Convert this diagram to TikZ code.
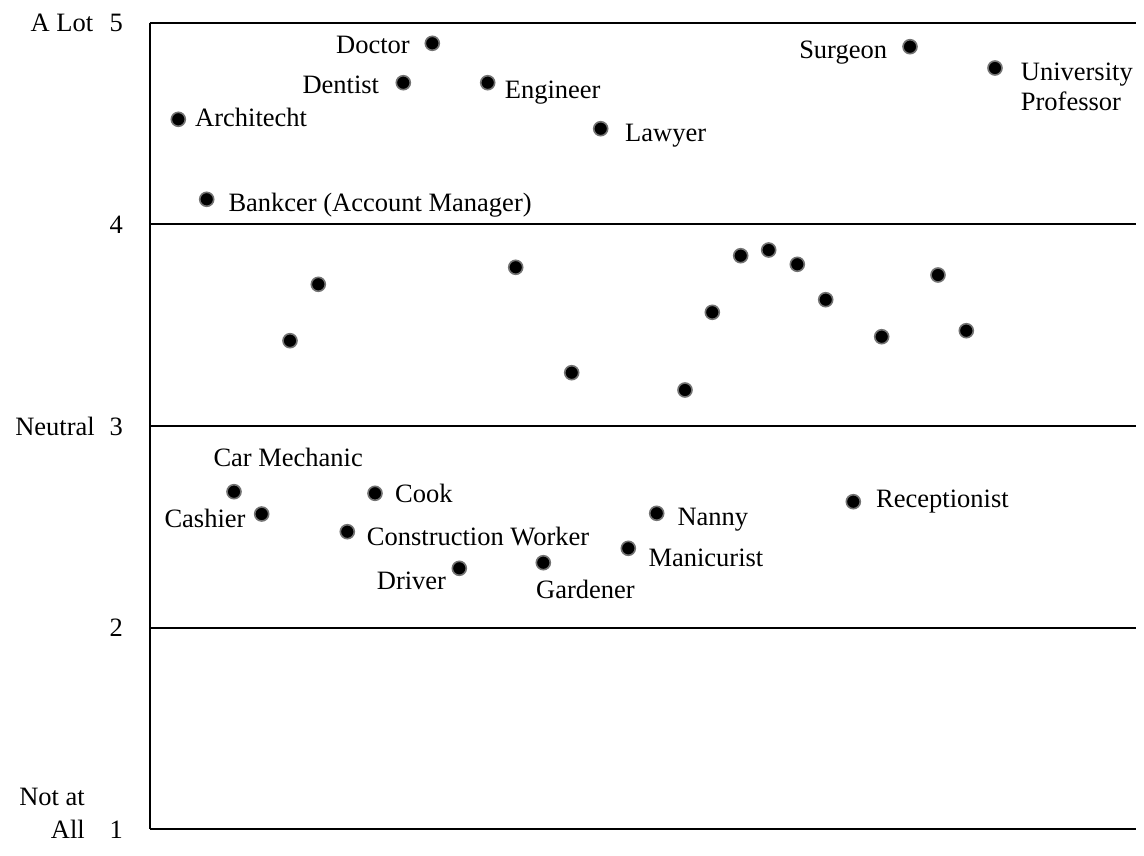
\documentclass[tikz,border=0pt]{standalone}
\usepackage{fontspec}
\setmainfont{Liberation Serif}
\begin{document}
\begin{tikzpicture}[x=1pt,y=-1pt,
  every node/.style={font=\fontsize{26.5}{30}\selectfont, inner sep=0pt},
  grid/.style={line width=2pt, black},
  dot/.style={circle, fill=black, draw=black!55, line width=1.6pt, minimum size=14pt, inner sep=0pt},
  lw/.style={anchor=base west},
  le/.style={anchor=base east}]
\useasboundingbox (0,0) rectangle (1144,855);
% grid
\coordinate (g5l) at (149.5,22.5);  \coordinate (g5r) at (1136,22.5);
\coordinate (g4l) at (149.5,223.5); \coordinate (g4r) at (1136,223.5);
\coordinate (g3l) at (149.5,426);   \coordinate (g3r) at (1136,426);
\coordinate (g2l) at (149.5,628);   \coordinate (g2r) at (1136,628);
\coordinate (g1l) at (149.5,828.5); \coordinate (g1r) at (1136,828.5);
\draw[grid] (g5l) -- (g5r);
\draw[grid] (g4l) -- (g4r);
\draw[grid] (g3l) -- (g3r);
\draw[grid] (g2l) -- (g2r);
\draw[grid] (g1l) -- (g1r);
\draw[grid] (g5l) -- (g1l);
% axis labels
\node[le] (t5) at (123,31.7) {5};
\node[le] (t4) at (123,233.3) {4};
\node[le] (t3) at (123,435) {3};
\node[le] (t2) at (123,636.7) {2};
\node[le] (t1) at (123,838) {1};
\node[le] (alot) at (93.5,31.7) {A Lot};
\node[le] (neutral) at (95,435) {Neutral};
\node[le] (notat) at (85,805) {Not at};
\node[le] (all) at (85,838) {All};
% dots
\node[dot] (arch) at (178.3,119.3) {};
\node[dot] (bank) at (206.7,199.3) {};
\node[dot] (doctor) at (432.3,43.3) {};
\node[dot] (dentist) at (403.3,82.7) {};
\node[dot] (engineer) at (487.7,82.7) {};
\node[dot] (lawyer) at (600.7,128.7) {};
\node[dot] (surgeon) at (910,46.7) {};
\node[dot] (prof) at (995,68) {};
\node[dot] (u1) at (290,340.7) {};
\node[dot] (u2) at (318.3,284.3) {};
\node[dot] (u3) at (515.7,267.3) {};
\node[dot] (u4) at (571.7,372.7) {};
\node[dot] (u5) at (685,390) {};
\node[dot] (u6) at (712.3,312.3) {};
\node[dot] (u7) at (740.7,255.7) {};
\node[dot] (u8) at (768.7,250) {};
\node[dot] (u9) at (797.3,264.3) {};
\node[dot] (u10) at (825.7,299.7) {};
\node[dot] (u11) at (881.7,336.7) {};
\node[dot] (u12) at (938,275) {};
\node[dot] (u13) at (966.3,330.7) {};
\node[dot] (carmech) at (234,491.7) {};
\node[dot] (cashier) at (261.7,514) {};
\node[dot] (cook) at (375,493.3) {};
\node[dot] (constr) at (347.3,531.7) {};
\node[dot] (driver) at (459.3,568.3) {};
\node[dot] (gardener) at (543.3,562.7) {};
\node[dot] (manic) at (628.3,548.3) {};
\node[dot] (nanny) at (656.7,513.3) {};
\node[dot] (recep) at (853.3,501.7) {};
% labels
\node[lw] (archL) at (195,126.7) {Architecht};
\node[lw] (bankL) at (228.3,211.7) {Bankcer (Account Manager)};
\node[le] (doctorL) at (410,53.3) {Doctor};
\node[le] (dentistL) at (379.3,93.3) {Dentist};
\node[lw] (engineerL) at (504.7,98.3) {Engineer};
\node[lw] (lawyerL) at (625,141.7) {Lawyer};
\node[le] (surgeonL) at (887.3,58.3) {Surgeon};
\node[lw] (profL1) at (1020.7,80) {University};
\node[lw] (profL2) at (1020.7,110) {Professor};
\node[lw] (carmechL) at (213.3,466.7) {Car Mechanic};
\node[le] (cashierL) at (245.7,527.3) {Cashier};
\node[lw] (cookL) at (395,502.7) {Cook};
\node[lw] (constrL) at (366.7,545) {Construction Worker};
\node[lw] (driverL) at (376.7,589.3) {Driver};
\node[lw] (gardenerL) at (536,598.3) {Gardener};
\node[lw] (manicL) at (648.3,566.7) {Manicurist};
\node[lw] (nannyL) at (677.3,525) {Nanny};
\node[lw] (recepL) at (876,507.3) {Receptionist};
\end{tikzpicture}
\end{document}
